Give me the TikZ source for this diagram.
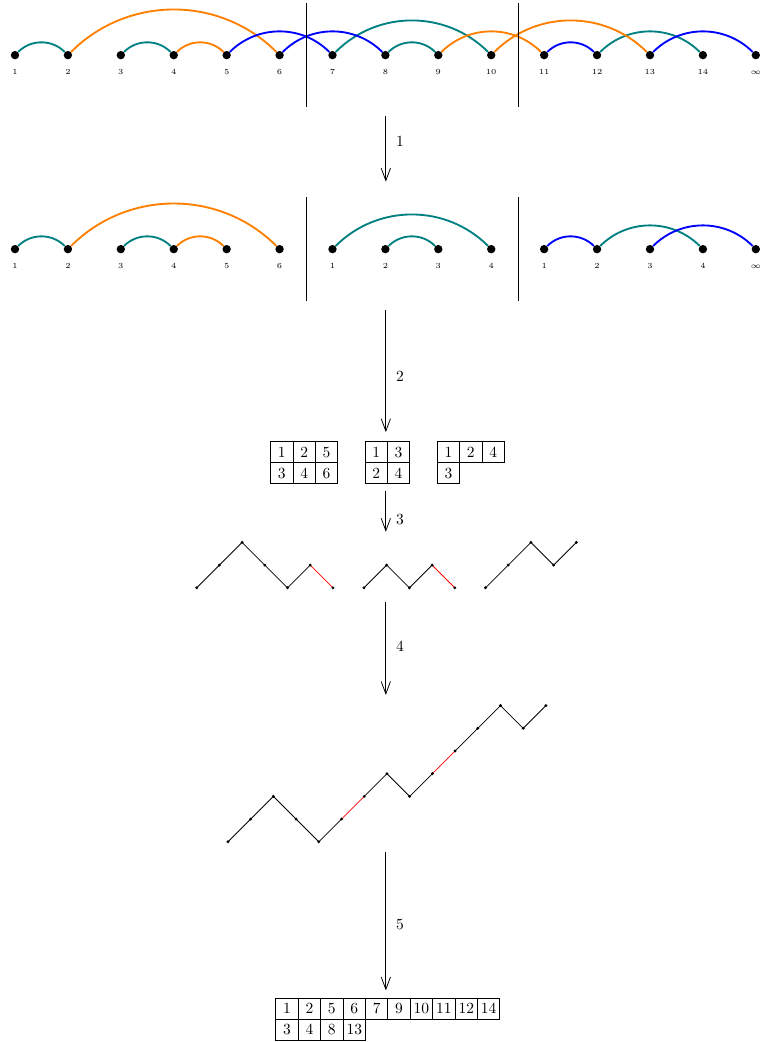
\documentclass[tikz,border=0pt]{standalone}
\usepackage{amsmath}
\usepackage{amssymb}
\usetikzlibrary{arrows.meta,matrix}

\tikzset{
  dot/.style={circle, fill=black, inner sep=0pt, minimum size=0.19cm},
  lbl/.style={font=\tiny, inner sep=0pt, text height=3.3pt, text depth=0pt, label distance=6.4pt},
  link/.style={very thick, out=45, in=135},
  flow/.style={-{Straight Barb[length=8pt,width=6pt]}, line width=0.5pt},
  walk/.style={line width=0.5pt},
  tableau/.style={matrix of nodes, inner sep=0pt, column sep=-0.5pt, row sep=-0.5pt,
    nodes={draw, line width=0.5pt, anchor=center, minimum width=0.508cm, minimum height=0.476cm,
      inner sep=0pt, text height=6.5pt, text depth=0pt}},
}

\begin{document}
\begin{tikzpicture}
    \useasboundingbox (0,0) rectangle (17.23,-23.63);

    % First row of points
    \foreach \i in {1,...,14}
        \node[dot, label={[lbl]below:$\i$}] (u\i) at ({0.34+1.2*(\i-1)},-1.25) {};
    \node[dot, label={[lbl]below:$\infty$}] (u15) at (17.14,-1.25) {};

    % Arcs of the first row
    \foreach \a/\b in {1/2,3/4,7/10,8/9,12/14}
        \draw[link, teal] (u\a) to (u\b);
    \foreach \a/\b in {2/6,4/5,9/11,10/13}
        \draw[link, orange] (u\a) to (u\b);
    \foreach \a/\b in {5/7,6/8,11/12,13/15}
        \draw[link, blue] (u\a) to (u\b);

    % Second row of points
    \foreach \i/\lab in {1/1,2/2,3/3,4/4,5/5,6/6,7/1,8/2,9/3,10/4,11/1,12/2,13/3,14/4}
        \node[dot, label={[lbl]below:$\lab$}] (v\i) at ({0.34+1.2*(\i-1)},-5.65) {};
    \node[dot, label={[lbl]below:$\infty$}] (v15) at (17.14,-5.65) {};

    % Arcs of the second row
    \foreach \a/\b in {1/2,3/4,7/10,8/9,12/14}
        \draw[link, teal] (v\a) to (v\b);
    \foreach \a/\b in {2/6,4/5}
        \draw[link, orange] (v\a) to (v\b);
    \foreach \a/\b in {11/12,13/15}
        \draw[link, blue] (v\a) to (v\b);

    % Dividers
    \foreach \x in {6.96,11.75} {
        \draw[line width=0.6pt] (\x,-0.07) -- (\x,-2.43);
        \draw[line width=0.6pt] (\x,-4.47) -- (\x,-6.83);
    }

    % Tableaux
    \matrix (tabA) [tableau, anchor=north west] at (6.12,-10.0) {1 & 2 & 5\\ 3 & 4 & 6\\};
    \matrix (tabB) [tableau, anchor=north west] at (8.26,-10.0) {1 & 3\\ 2 & 4\\};
    \matrix (tabC) [tableau, anchor=north west] at (9.90,-10.0) {1 & 2 & 4\\ 3\\};
    \matrix (tabF) [tableau, anchor=north west] at (6.24,-22.62)
        {1 & 2 & 5 & 6 & 7 & 9 & 10 & 11 & 12 & 14\\ 3 & 4 & 8 & 13\\};

    % Lattice paths
    \begin{scope}[shift={(4.46,-13.33)}, scale=0.515]
        \draw[walk] (0,0) -- (1,1) -- (2,2) -- (3,1) -- (4,0) -- (5,1);
        \draw[walk, red] (5,1) -- (6,0);
        \foreach \x/\y in {0/0,1/1,2/2,3/1,4/0,5/1,6/0}
            \fill (\x,\y) circle (0.07);
    \end{scope}
    \begin{scope}[shift={(8.254,-13.33)}, scale=0.515]
        \draw[walk] (0,0) -- (1,1) -- (2,0) -- (3,1);
        \draw[walk, red] (3,1) -- (4,0);
        \foreach \x/\y in {0/0,1/1,2/0,3/1,4/0}
            \fill (\x,\y) circle (0.07);
    \end{scope}
    \begin{scope}[shift={(11.01,-13.33)}, scale=0.515]
        \draw[walk] (0,0) -- (1,1) -- (2,2) -- (3,1) -- (4,2);
        \foreach \x/\y in {0/0,1/1,2/2,3/1,4/2}
            \fill (\x,\y) circle (0.07);
    \end{scope}

    % Glued path
    \begin{scope}[shift={(5.17,-19.09)}, scale=0.515]
        \draw[walk] (0,0) -- (1,1) -- (2,2) -- (3,1) -- (4,0) -- (5,1);
        \draw[walk, red] (5,1) -- (6,2);
        \draw[walk] (6,2) -- (7,3) -- (8,2) -- (9,3);
        \draw[walk, red] (9,3) -- (10,4);
        \draw[walk] (10,4) -- (11,5) -- (12,6) -- (13,5) -- (14,6);
        \foreach \x/\y in {0/0,1/1,2/2,3/1,4/0,5/1,6/2,7/3,8/2,9/3,10/4,11/5,12/6,13/5,14/6}
            \fill (\x,\y) circle (0.07);
    \end{scope}

    % Steps
    \coordinate (s1) at (8.75,-2.63);
    \coordinate (e1) at (8.75,-4.12);
    \coordinate (s2) at (8.75,-7.03);
    \coordinate (e3) at (8.75,-12.06);
    \coordinate (s4) at (8.75,-13.65);
    \coordinate (e4) at (8.75,-15.76);
    \coordinate (s5) at (8.75,-19.32);
    \draw[flow] (s1) -- node[right=3pt, pos=0.38] (n1) {1} (e1);
    \draw[flow, shorten >=0.2cm] (s2) -- node[right=3pt, pos=0.51] (n2) {2} (s2 |- tabB.north);
    \draw[flow, shorten <=0.14cm] (e3 |- tabB.south) -- node[right=3pt, pos=0.75] (n3) {3} (e3);
    \draw[flow] (s4) -- node[right=3pt, pos=0.48] (n4) {4} (e4);
    \draw[flow, shorten >=0.16cm] (s5) -- node[right=3pt, pos=0.5] (n5) {5} (s5 |- tabF.north);
\end{tikzpicture}
\end{document}
